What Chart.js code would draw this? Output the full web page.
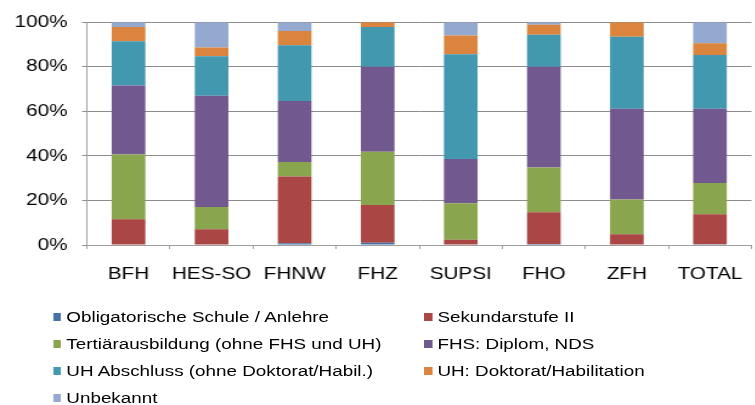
<!DOCTYPE html>
<html>
<head>
<meta charset="utf-8">
<script src="https://cdn.jsdelivr.net/npm/chart.js@4/dist/chart.umd.min.js"></script>
<style>
    html, body { margin: 0; padding: 0; background: #fff; overflow: hidden; width: 755px; height: 405px; }
    #wrap { position: absolute; left: 0; top: 0; width: 626px; height: 405px; transform: scaleX(1.215); transform-origin: 0 0; }
    #legend { position: absolute; left: 0; top: 0; width: 626px; height: 405px; font-family: "Liberation Sans", Arial, sans-serif; font-size: 15.5px; color: #000; }
    .item { position: absolute; height: 18px; }
    .box { position: absolute; left: 0; top: 5px; width: 6.6px; height: 8px; }
    .txt { position: absolute; top: 0; white-space: nowrap; line-height: 18px; }
</style>
</head>
<body>
<div id="wrap">
    <canvas id="chart" width="626" height="300"></canvas>
    <div id="legend"></div>
</div>
<script>
// categories and shares (percent)
const categories = ['BFH', 'HES-SO', 'FHNW', 'FHZ', 'SUPSI', 'FHO', 'ZFH', 'TOTAL'];
const seriesNames = [
    'Obligatorische Schule / Anlehre',
    'Sekundarstufe II',
    'Tertiärausbildung (ohne FHS und UH)',
    'FHS: Diplom, NDS',
    'UH Abschluss (ohne Doktorat/Habil.)',
    'UH: Doktorat/Habilitation',
    'Unbekannt'
];
const obligatorisch = [0, 0, 0.8, 1.0, 0, 0.5, 0, 0.3];
const sekundar = [11.6, 7.1, 30.0, 17.0, 2.4, 14.2, 4.8, 13.5];
const tertiaer = [29.0, 9.9, 6.5, 23.9, 16.3, 20.1, 15.6, 14.0];
const fhsDiplom = [31.0, 50.0, 27.3, 38.1, 19.9, 45.2, 40.8, 33.4];
const uhAbschluss = [19.8, 17.7, 25.1, 17.8, 47.0, 14.4, 32.3, 24.1];
const uhDoktorat = [6.4, 4.0, 6.3, 2.2, 8.4, 4.4, 6.5, 5.3];
const unbekannt = [2.2, 11.3, 4.0, 0, 6.0, 1.2, 0, 9.4];
const yTicks = [0, 20, 40, 60, 80, 100];

const colors = ['#4572A7', '#AA4643', '#89A54E', '#71588F', '#4198AF', '#DB843D', '#93A9CF'];
const values = [obligatorisch, sekundar, tertiaer, fhsDiplom, uhAbschluss, uhDoktorat, unbekannt];

const datasets = values.map((data, i) => ({
    label: seriesNames[i],
    data: data,
    backgroundColor: colors[i],
    borderWidth: 0,
    barPercentage: 0.405,
    categoryPercentage: 1.0
}));

const font = { family: '"Liberation Sans", Arial, sans-serif', size: 17 };

const chart = new Chart(document.getElementById('chart'), {
    type: 'bar',
    data: { labels: categories, datasets: datasets },
    options: {
        responsive: false,
        animation: false,
        layout: { padding: { top: 21, right: 1, left: 0, bottom: 0 } },
        plugins: { legend: { display: false }, tooltip: { enabled: false } },
        scales: {
            x: {
                stacked: true,
                grid: { drawOnChartArea: false, drawTicks: true, tickLength: 4, color: '#a0a0a0', offset: true },
                border: { color: '#a0a0a0' },
                ticks: { color: '#000', font: font, padding: 15, maxRotation: 0 },
                afterFit: (scale) => { scale.height = 55; }
            },
            y: {
                stacked: true,
                min: 0,
                max: 100,
                afterBuildTicks: (scale) => { scale.ticks = yTicks.map(v => ({ value: v })); },
                grid: { color: '#8c8c8c', tickLength: 4 },
                border: { color: '#a0a0a0' },
                ticks: { color: '#000', font: font, padding: 12, callback: (v) => v + '%' },
                afterFit: (scale) => { scale.width = 71.6; }
            }
        }
    }
});

// legend in two columns, built from the chart's datasets (coordinates before the x stretch)
const legend = document.getElementById('legend');
const colX = [43.6, 349];
const rowY = [308, 335, 362, 389];
chart.data.datasets.forEach((ds, i) => {
    const item = document.createElement('div');
    item.className = 'item';
    item.style.left = colX[i % 2] + 'px';
    item.style.top = rowY[Math.floor(i / 2)] + 'px';
    item.innerHTML = '<div class="box" style="background:' + ds.backgroundColor + '"></div>' +
        '<div class="txt" style="left:11px">' + ds.label + '</div>';
    legend.appendChild(item);
});
</script>
</body>
</html>
